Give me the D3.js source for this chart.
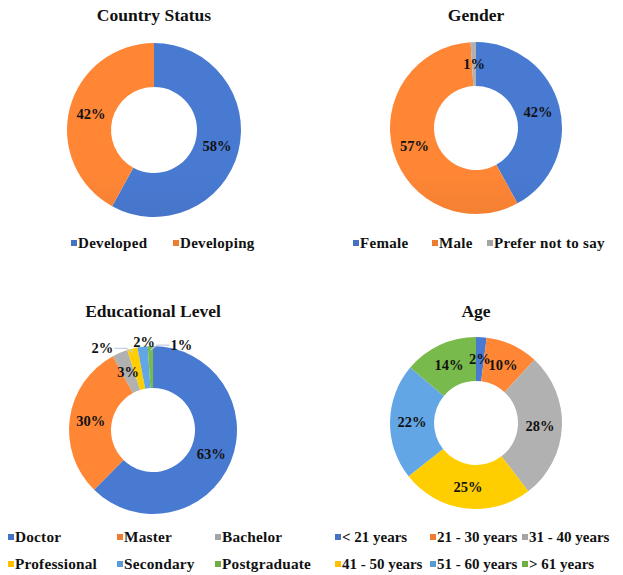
<!DOCTYPE html>
<html>
<head>
<meta charset="utf-8">
<script src="https://cdn.jsdelivr.net/npm/d3@7"></script>
<style>
  body { margin: 0; background: #fff; }
  svg text { font-family: "Liberation Serif", "Times New Roman", serif; font-weight: bold; fill: #111; }
</style>
</head>
<body>
<div id="chart"></div>
<script>
// data
var countryLabels = ["Developed", "Developing"];
var countryValues = [58, 42];

var genderLabels = ["Female", "Male", "Prefer not to say"];
var genderValues = [42, 57, 1];

var eduLabels = ["Doctor", "Master", "Bachelor", "Professional", "Secondary", "Postgraduate"];
var eduValues = [63, 30, 3, 2, 2, 1];

var ageLabels = ["< 21 years", "21 - 30 years", "31 - 40 years", "41 - 50 years", "51 - 60 years", "> 61 years"];
var ageValues = [2, 10, 28, 25, 22, 14];

// office colours
var palette = ["#4472C4", "#ED7D31", "#A5A5A5", "#FFC000", "#5B9BD5", "#70AD47"];

var svg = d3.select("#chart").append("svg")
    .attr("width", 623)
    .attr("height", 575);

var defs = svg.append("defs");

// layout for each donut
var charts = [
  {id: "c1", title: "Country Status", labels: countryLabels, values: countryValues,
   cx: 154, cy: 130, r: 87, ir: 43, titleY: 21, legendY: [248], legendX: [[71, 173]], fs: 15, ls: 0.3},
  {id: "c2", title: "Gender", labels: genderLabels, values: genderValues,
   cx: 476, cy: 128, r: 86, ir: 42, titleY: 21, legendY: [248], legendX: [[353, 432, 487]], fs: 15, ls: 0.3},
  {id: "c3", title: "Educational Level", labels: eduLabels, values: eduValues,
   cx: 153, cy: 430, r: 84, ir: 42, titleY: 317, legendY: [542, 569], legendX: [[8, 117, 215], [8, 117, 215]], fs: 15.3, ls: 0.2,
   // small slices: label offset from the slice edge [dx, dy, anchor]
   outside: {3: [-19, -2, "end"], 4: [1, 1, "middle"], 5: [19, -3, "start"]}},
  {id: "c4", title: "Age", labels: ageLabels, values: ageValues,
   cx: 476, cy: 423, r: 86, ir: 42, titleY: 317, legendY: [542, 569], legendX: [[335, 430, 522], [335, 430, 522]], fs: 15, ls: 0}
];

var pie = d3.pie().sort(null).value(d => d);

charts.forEach(function(c) {
  // vertical gradient per colour, lighter on top
  palette.forEach(function(col, i) {
    var g = defs.append("linearGradient")
        .attr("id", c.id + "g" + i)
        .attr("gradientUnits", "userSpaceOnUse")
        .attr("x1", 0).attr("x2", 0)
        .attr("y1", c.cy - c.r).attr("y2", c.cy + c.r);
    g.append("stop").attr("offset", "0%").attr("stop-color", d3.color(col).brighter(0.2));
    g.append("stop").attr("offset", "100%").attr("stop-color", d3.color(col).darker(0.3));
  });

  var group = svg.append("g").attr("transform", `translate(${c.cx}, ${c.cy})`);
  var arc = d3.arc().innerRadius(c.ir).outerRadius(c.r);
  var labelArc = d3.arc().innerRadius((c.ir + c.r) / 2).outerRadius((c.ir + c.r) / 2);
  var arcs = pie(c.values);

  group.selectAll("path")
    .data(arcs)
    .enter()
    .append("path")
    .attr("d", arc)
    .attr("fill", (d, i) => `url(#${c.id}g${i})`);

  // percentage labels
  arcs.forEach(function(d, i) {
    var out = c.outside && c.outside[i];
    if (out) {
      var a = (d.startAngle + d.endAngle) / 2;
      var px = Math.sin(a) * (c.r - 4), py = -Math.cos(a) * (c.r - 4);
      var lx = px + out[0], ly = py + out[1] - 2;
      if (out[2] != "middle") {
        group.append("polyline")
          .attr("points", `${px},${py} ${px + out[0] * 0.35},${ly} ${lx},${ly}`)
          .attr("fill", "none")
          .attr("stroke", "#c3cfdf")
          .attr("stroke-width", 1.2);
      }
      group.append("text")
        .attr("x", lx + (out[2] == "end" ? -1 : out[2] == "start" ? 1 : 0))
        .attr("y", ly + (out[2] == "middle" ? -3 : 5))
        .attr("text-anchor", out[2])
        .style("font-size", "14.5px")
        .text(c.values[i] + "%");
    } else {
      var p = labelArc.centroid(d);
      group.append("text")
        .attr("x", p[0])
        .attr("y", p[1] + 5)
        .attr("text-anchor", "middle")
        .style("font-size", "14.5px")
        .text(c.values[i] + "%");
    }
  });

  // title
  svg.append("text")
    .attr("x", c.cx)
    .attr("y", c.titleY)
    .attr("text-anchor", "middle")
    .style("font-size", "17.5px")
    .text(c.title);

  // legend
  var perRow = c.legendX[0].length;
  c.labels.forEach(function(lab, i) {
    var row = Math.floor(i / perRow), col = i % perRow;
    var x = c.legendX[row][col], y = c.legendY[row];
    svg.append("rect")
      .attr("x", x).attr("y", y - 8)
      .attr("width", 6).attr("height", 6)
      .attr("fill", palette[i]);
    svg.append("text")
      .attr("x", x + 7)
      .attr("y", y)
      .style("font-size", c.fs + "px")
      .style("letter-spacing", c.ls + "px")
      .text(lab);
  });
});
</script>
</body>
</html>
